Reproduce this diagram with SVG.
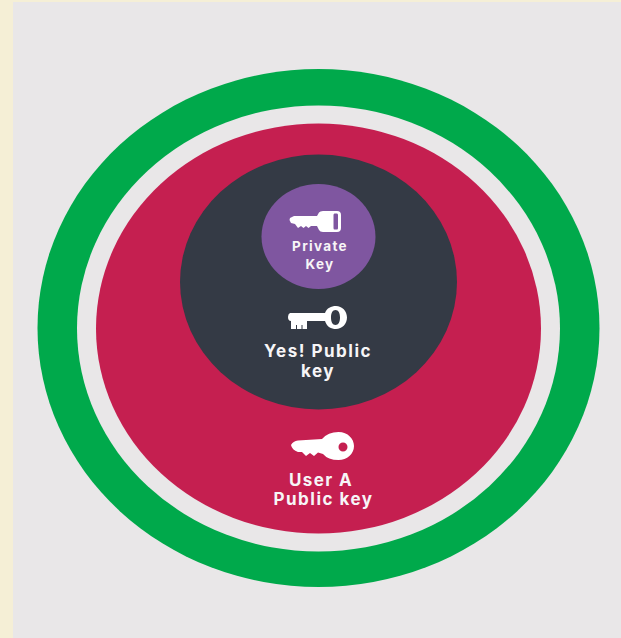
<svg xmlns="http://www.w3.org/2000/svg" width="621" height="638" viewBox="0 0 621 638">
<style>
.t{font-family:Inter,"Noto Sans","Liberation Sans",sans-serif;font-weight:700;fill:#f7f5f7;text-anchor:middle}
.k{fill:#fff;fill-rule:evenodd}
</style>
<rect width="621" height="638" fill="#f5efd6"/>
<rect x="13" y="2" width="608" height="636" fill="#e9e7e8"/>
<g id="outer-ring"><ellipse cx="318.500" cy="328" rx="281" ry="259" fill="#00a94b"/><ellipse cx="318.500" cy="328.500" rx="241.500" ry="223" fill="#e9e7e8"/></g>
<g id="user-a-public-key">
<ellipse cx="318.500" cy="328.500" rx="222.500" ry="205" fill="#c51f50"/>
<path class="k" d="M291 445 Q293 441 298 440.500 L322 439 Q328 432 338.500 432 C348 432 354 439 354 446 C354 454 347 460 338.500 460 Q328 460 323 454 L318 452.500 L314 456 L310 453 L306 456 L302 452 L298 452 Q292 450 291 445Z M343 442.500 A4.500 4.500 0 1 0 343 451.500 A4.500 4.500 0 1 0 343 442.500Z"/>
<text class="t" font-size="17" letter-spacing="1.400" x="321" y="485.500">User A</text>
<text class="t" font-size="17" letter-spacing="1.500" x="323.500" y="505">Public key</text>
</g>
<g id="yes-public-key">
<ellipse cx="318.500" cy="282" rx="138.500" ry="127.500" fill="#343a45"/>
<path class="k" d="M290 313 H325 C327 308 331 306 336 306 C342 306 347 311 347 317.500 C347 324 342 329 336 329 C331 329 327 327 325 321 H307 V329 H302.500 V325 H301.500 V329 H297 V325 H296 V329 H291 V321 Q288 321 288 317 Q288 314 290 313Z M335.500 310 C332.500 310 331 313 331 317.500 C331 322 332.500 325 335.500 325 C338.500 325 340 322 340 317.500 C340 313 338.500 310 335.500 310Z"/>
<text class="t" font-size="17" letter-spacing="1.500" x="318" y="357">Yes! Public</text>
<text class="t" font-size="17" letter-spacing="1.500" x="318" y="377">key</text>
</g>
<g id="private-key">
<ellipse cx="318.500" cy="236.500" rx="57" ry="52.500" fill="#7f56a0"/>
<path class="k" d="M290 218 L294 216 H317 L319 212.500 Q320 211 323 211 H337 Q341 211 341 215 V228 Q341 232 337 232 H323 Q320 232 319 230 L317 226 H311 L308.500 228 L306 226 L303.500 228 L301 226 L298 228 L295 224 L291 223 L289.500 220Z M334.500 213.500 Q333.500 213.500 333.500 215 V228 Q333.500 229.500 334.500 229.500 H337 Q338 229.500 338 228 V215 Q338 213.500 337 213.500Z"/>
<text class="t" font-size="13.500" letter-spacing="1.300" x="320" y="251">Private</text>
<text class="t" font-size="13.500" letter-spacing="1.300" x="320" y="269">Key</text>
</g>
</svg>
